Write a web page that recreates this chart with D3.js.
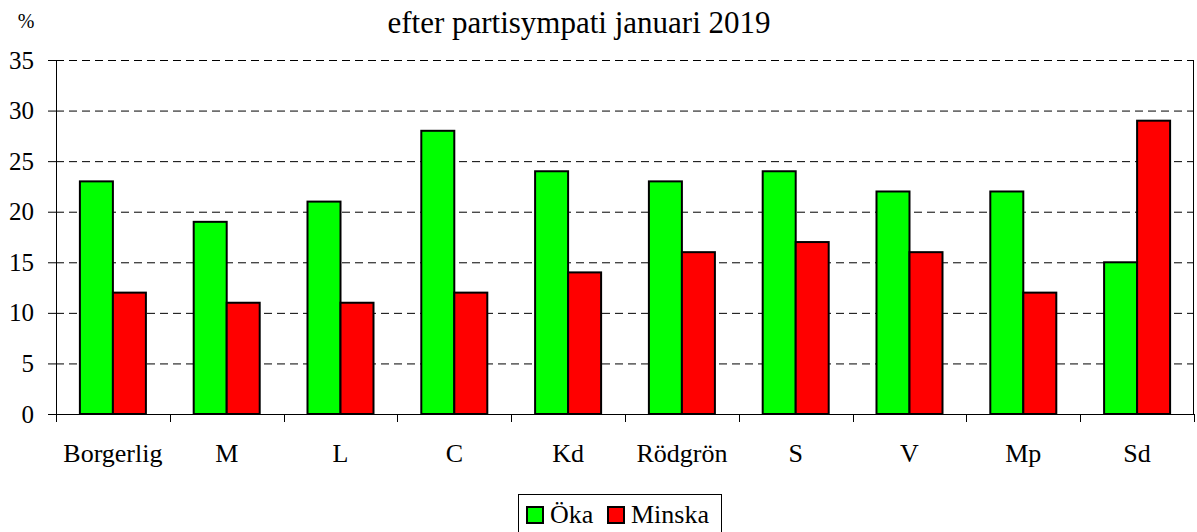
<!DOCTYPE html>
<html>
<head>
<meta charset="utf-8">
<script src="https://cdn.jsdelivr.net/npm/d3@7"></script>
<style>
  body { margin: 0; background: #fff; }
  text { font-family: "Liberation Serif", "Times New Roman", serif; fill: #000; }
</style>
</head>
<body>
<div id="chart"></div>
<script>
// data
var parties = ["Borgerlig", "M", "L", "C", "Kd", "Rödgrön", "S", "V", "Mp", "Sd"];
var oka = [23, 19, 21, 28, 24, 23, 24, 22, 22, 15];
var minska = [12, 11, 11, 12, 14, 16, 17, 16, 12, 29];
var seriesNames = ["Öka", "Minska"];
var seriesColors = ["#00ff00", "#ff0000"];
var yTicks = [0, 5, 10, 15, 20, 25, 30, 35];

var W = 1197, H = 532;
var margin = {top: 60, right: 3, bottom: 118, left: 56},
    width = W - margin.left - margin.right,
    height = H - margin.top - margin.bottom;

var svg = d3.select("#chart")
  .append("svg")
  .attr("width", W)
  .attr("height", H)
  .append("g")
  .attr("transform", "translate(" + margin.left + "," + margin.top + ")");

var x = d3.scaleBand()
  .domain(parties)
  .range([0, width]);

var x1 = d3.scaleBand()
  .domain(seriesNames)
  .range([x.bandwidth() * 0.21, x.bandwidth() * 0.79]);

var y = d3.scaleLinear()
  .domain([0, 35])
  .range([height, 0]);

// grid lines
svg.append("g")
  .selectAll("line")
  .data(yTicks.filter(function(d) { return d > 0; }))
  .enter()
  .append("line")
    .attr("x1", 0)
    .attr("x2", width)
    .attr("y1", function(d) { return y(d) + 0.5; })
    .attr("y2", function(d) { return y(d) + 0.5; })
    .style("stroke", "#000")
    .style("stroke-width", 1)
    .style("stroke-dasharray", "8,5");

// right border
svg.append("line")
  .attr("x1", width - 0.5).attr("x2", width - 0.5)
  .attr("y1", 0).attr("y2", height)
  .style("stroke", "#000");

// bars
var rows = parties.map(function(p, i) {
  return {party: p, values: [
    {key: seriesNames[0], value: oka[i]},
    {key: seriesNames[1], value: minska[i]}
  ]};
});
var color = d3.scaleOrdinal().domain(seriesNames).range(seriesColors);

svg.append("g")
  .selectAll("g")
  .data(rows)
  .enter()
  .append("g")
    .attr("transform", function(d) { return "translate(" + x(d.party) + ",0)"; })
  .selectAll("rect")
  .data(function(d) { return d.values; })
  .enter()
  .append("rect")
    .attr("x", function(d) { return x1(d.key); })
    .attr("y", function(d) { return y(d.value); })
    .attr("width", x1.bandwidth())
    .attr("height", function(d) { return height - y(d.value); })
    .style("fill", function(d) { return color(d.key); })
    .style("stroke", "#000")
    .style("stroke-width", 2);

// y axis
var yAxis = svg.append("g")
  .call(d3.axisLeft(y).tickValues(yTicks).tickSize(8).tickPadding(14));
yAxis.selectAll("text").style("font-size", "25px").style("font-family", "Liberation Serif");
yAxis.selectAll("line, path").style("stroke", "#000");

// x axis: ticks between categories
var xAxis = svg.append("g")
  .attr("transform", "translate(0," + height + ")");
xAxis.append("line")
  .attr("x1", 0).attr("x2", width)
  .attr("y1", 0.5).attr("y2", 0.5)
  .style("stroke", "#000");
xAxis.selectAll(".sep")
  .data(parties.concat(["end"]))
  .enter()
  .append("line")
    .attr("class", "sep")
    .attr("x1", function(d, i) { return Math.round(i * x.step()) + 0.5; })
    .attr("x2", function(d, i) { return Math.round(i * x.step()) + 0.5; })
    .attr("y1", 0).attr("y2", 8)
    .style("stroke", "#000");
xAxis.selectAll(".lab")
  .data(parties)
  .enter()
  .append("text")
    .attr("class", "lab")
    .attr("x", function(d) { return x(d) + x.bandwidth() / 2; })
    .attr("y", 48)
    .attr("text-anchor", "middle")
    .style("font-size", "26px")
    .text(function(d) { return d; });

// title and unit
svg.append("text")
  .attr("x", 579 - margin.left)
  .attr("y", 33 - margin.top)
  .attr("text-anchor", "middle")
  .style("font-size", "31px")
  .text("efter partisympati januari 2019");

svg.append("text")
  .attr("x", 26 - margin.left)
  .attr("y", 28 - margin.top)
  .attr("text-anchor", "middle")
  .style("font-size", "20px")
  .text("%");

// legend
var lg = d3.select("svg").append("g").attr("transform", "translate(518,494)");
lg.append("rect")
  .attr("x", 0.5).attr("y", 0.5)
  .attr("width", 203).attr("height", 40)
  .style("fill", "#fff")
  .style("stroke", "#000");
var legendX = [9, 90];
seriesNames.forEach(function(s, i) {
  lg.append("rect")
    .attr("x", legendX[i]).attr("y", 13)
    .attr("width", 16).attr("height", 16)
    .style("fill", seriesColors[i])
    .style("stroke", "#000")
    .style("stroke-width", 2);
  lg.append("text")
    .attr("x", legendX[i] + 23)
    .attr("y", 29)
    .style("font-size", "26px")
    .text(s);
});
</script>
</body>
</html>
